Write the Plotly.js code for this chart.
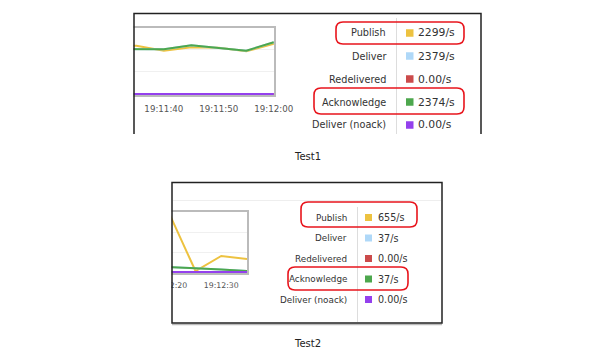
<!DOCTYPE html>
<html>
<head>
<meta charset="utf-8">
<script src="https://cdn.plot.ly/plotly-3.0.1.min.js"></script>
<style>html,body{margin:0;padding:0;background:#fff;}#chart{width:609px;height:355px;}</style>
</head>
<body>
<div id="chart"></div>
<script>
// ---------- data ----------
const day = '2024-01-01 ';
const times1 = ['19:11:25','19:11:30','19:11:35','19:11:40','19:11:45','19:11:50','19:11:55','19:12:00'];
const publish1 = [2190, 2200, 2194, 1967, 2121, 2103, 1939, 2285];
const deliver1 = [2040, 2044, 2044, 2030, 2212, 2103, 1967, 2349];
const redelivered1 = [0, 0, 0, 0, 0, 0, 0, 0];
const acknowledge1 = [2040, 2044, 2044, 2030, 2212, 2103, 1967, 2349];
const noack1 = [0, 0, 0, 0, 0, 0, 0, 0];

const times2 = ['19:12:15','19:12:20','19:12:25','19:12:30','19:12:35'];
const publish2 = [2900, 2865, 50, 800, 650];
const deliver2 = [300, 260, 190, 120, 50];
const redelivered2 = [0, 0, 0, 0, 0];
const acknowledge2 = [300, 260, 190, 120, 50];
const noack2 = [0, 0, 0, 0, 0];

const seriesNames = ['Publish', 'Deliver', 'Redelivered', 'Acknowledge', 'Deliver (noack)'];
const seriesColors = ['#edc240', '#afd8f8', '#cb4b4b', '#4da74d', '#9440ed'];
const rates1 = ['2299/s', '2379/s', '0.00/s', '2374/s', '0.00/s'];
const rates2 = ['655/s', '37/s', '0.00/s', '37/s', '0.00/s'];
const captions = ['Test1', 'Test2'];

// ---------- helpers ----------
const W = 609, H = 355;
const X = px => px / W;
const Y = py => 1 - py / H;
const FONT = 'DejaVu Sans, Verdana, sans-serif';

function roundRect(x0, y0, x1, y1, r) {
  const p = (x, y) => X(x) + ',' + Y(y);
  return 'M' + p(x0 + r, y0) + ' L' + p(x1 - r, y0) + ' Q' + p(x1, y0) + ' ' + p(x1, y0 + r) +
    ' L' + p(x1, y1 - r) + ' Q' + p(x1, y1) + ' ' + p(x1 - r, y1) +
    ' L' + p(x0 + r, y1) + ' Q' + p(x0, y1) + ' ' + p(x0, y1 - r) +
    ' L' + p(x0, y0 + r) + ' Q' + p(x0, y0) + ' ' + p(x0 + r, y0) + ' Z';
}

const seriesData1 = [publish1, deliver1, redelivered1, acknowledge1, noack1];
const seriesData2 = [publish2, deliver2, redelivered2, acknowledge2, noack2];

const traces = [];
seriesNames.forEach((name, i) => {
  traces.push({
    x: times1.map(t => day + t), y: seriesData1[i], name: name,
    type: 'scatter', mode: 'lines', xaxis: 'x', yaxis: 'y',
    line: {color: seriesColors[i], width: 2}, hoverinfo: 'skip'
  });
});
seriesNames.forEach((name, i) => {
  traces.push({
    x: times2.map(t => day + t), y: seriesData2[i], name: name,
    type: 'scatter', mode: 'lines', xaxis: 'x2', yaxis: 'y2',
    line: {color: seriesColors[i], width: 2}, hoverinfo: 'skip'
  });
});

const shapes = [];
const annotations = [];

// white covers to crop the charts at the panel's left edge
shapes.push({type: 'rect', xref: 'paper', yref: 'paper', x0: 0, x1: X(133.5), y0: Y(140), y1: Y(0),
  fillcolor: '#ffffff', line: {width: 0}, layer: 'above'});
shapes.push({type: 'rect', xref: 'paper', yref: 'paper', x0: 0, x1: X(171.5), y0: Y(335), y1: Y(165),
  fillcolor: '#ffffff', line: {width: 0}, layer: 'above'});

// panel frames
const frameColor = '#222222';
// top panel (open at bottom)
shapes.push({type: 'path', xref: 'paper', yref: 'paper',
  path: 'M' + X(134) + ',' + Y(134) + ' L' + X(134) + ',' + Y(13.5) + ' L' + X(481) + ',' + Y(13.5) + ' L' + X(481) + ',' + Y(134),
  line: {color: frameColor, width: 1.5}, layer: 'above'});
// bottom panel
shapes.push({type: 'line', xref: 'paper', yref: 'paper', x0: X(172), x1: X(442), y0: Y(324.5), y1: Y(324.5),
  line: {color: '#bbbbbb', width: 1.5}, layer: 'above'});
shapes.push({type: 'rect', xref: 'paper', yref: 'paper', x0: X(172), x1: X(442), y0: Y(323), y1: Y(182.5),
  line: {color: frameColor, width: 1.5}, layer: 'above'});
shapes.push({type: 'line', xref: 'paper', yref: 'paper', x0: X(173), x1: X(441), y0: Y(200.5), y1: Y(200.5),
  line: {color: '#eeeeee', width: 1}, layer: 'above'});

// legend tables
function table(rates, cfg) {
  shapes.push({type: 'line', xref: 'paper', yref: 'paper', x0: X(cfg.sep), x1: X(cfg.sep),
    y0: Y(cfg.sepY0), y1: Y(cfg.sepY1), line: {color: '#dddddd', width: 1}, layer: 'above'});
  seriesNames.forEach((name, i) => {
    const cy = cfg.row0 + i * cfg.rowH;
    annotations.push({xref: 'paper', yref: 'paper', x: X(cfg.labelRight), y: Y(cy), text: name,
      xanchor: 'right', yanchor: 'middle', showarrow: false,
      font: {family: FONT, size: cfg.labelSize, color: '#333333'}});
    annotations.push({xref: 'paper', yref: 'paper', x: X(cfg.valueLeft), y: Y(cy), text: rates[i],
      xanchor: 'left', yanchor: 'middle', showarrow: false,
      font: {family: FONT, size: cfg.valueSize, color: '#333333'}});
    shapes.push({type: 'rect', xref: 'paper', yref: 'paper',
      x0: X(cfg.sq), x1: X(cfg.sq + cfg.sqSize), y0: Y(cy + cfg.sqSize / 2), y1: Y(cy - cfg.sqSize / 2),
      fillcolor: seriesColors[i], line: {width: 0}, layer: 'above'});
  });
}
table(rates1, {sep: 396.5, sepY0: 18, sepY1: 134, row0: 33, rowH: 23, labelRight: 388, valueLeft: 416,
  labelSize: 9.7, valueSize: 10.8, sq: 406, sqSize: 7.5});
table(rates2, {sep: 357.5, sepY0: 207, sepY1: 322, row0: 217.5, rowH: 20.5, labelRight: 349, valueLeft: 376,
  labelSize: 8.8, valueSize: 9.6, sq: 365, sqSize: 7});

// red highlight boxes
const red = '#e8141c';
[[336, 22, 464, 44], [314, 88, 464, 114], [301, 202, 417, 227], [288, 267, 408, 290]].forEach(b => {
  shapes.push({type: 'path', xref: 'paper', yref: 'paper', path: roundRect(b[0], b[1], b[2], b[3], 7),
    line: {color: red, width: 1.6}, layer: 'above'});
});

// captions
annotations.push({xref: 'paper', yref: 'paper', x: X(307), y: Y(156), text: captions[0], showarrow: false,
  xanchor: 'center', yanchor: 'middle', font: {family: FONT, size: 10, color: '#222222'}});
annotations.push({xref: 'paper', yref: 'paper', x: X(307), y: Y(343), text: captions[1], showarrow: false,
  xanchor: 'center', yanchor: 'middle', font: {family: FONT, size: 10, color: '#222222'}});

const axisCommon = {
  type: 'date', tickformat: '%H:%M:%S', dtick: 10000, ticks: '', showgrid: false, zeroline: false,
  showline: true, mirror: true, linecolor: '#bbbbbb', linewidth: 2,
  tickfont: {family: FONT, color: '#555555'}
};
const yCommon = {
  range: [-50, 3000], dtick: 1000, tick0: 0, showticklabels: false, ticks: '', zeroline: false,
  showgrid: true, gridcolor: '#f0f0f0', gridwidth: 1,
  showline: true, mirror: true, linecolor: '#bbbbbb', linewidth: 2
};

const layout = {
  width: W, height: H, margin: {l: 0, r: 0, t: 0, b: 0},
  paper_bgcolor: '#ffffff', plot_bgcolor: '#ffffff', showlegend: false,
  xaxis: Object.assign({}, axisCommon, {
    domain: [X(60), X(274)], range: [day + '19:11:21.09', day + '19:12:00.05'],
    anchor: 'y', ticklabelstandoff: 5, tickfont: {family: FONT, color: '#555555', size: 8.7}
  }),
  yaxis: Object.assign({}, yCommon, {domain: [Y(95), Y(28)], anchor: 'x'}),
  xaxis2: Object.assign({}, axisCommon, {
    domain: [X(90), X(247)], range: [day + '19:12:04.51', day + '19:12:35'],
    anchor: 'y2', ticklabelstandoff: 4, tickfont: {family: FONT, color: '#555555', size: 7.8}
  }),
  yaxis2: Object.assign({}, yCommon, {domain: [Y(273), Y(212)], anchor: 'x2'}),
  shapes: shapes,
  annotations: annotations
};

Plotly.newPlot('chart', traces, layout, {displayModeBar: false, staticPlot: true});
</script>
</body>
</html>
